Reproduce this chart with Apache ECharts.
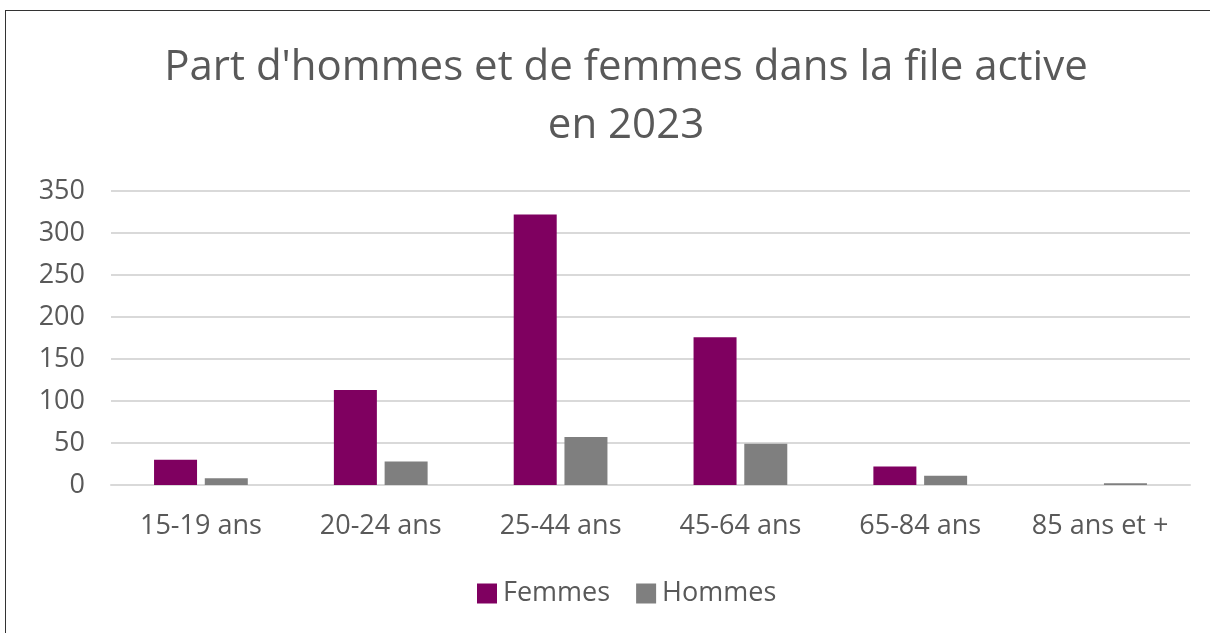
<!DOCTYPE html>
<html>
<head>
<meta charset="utf-8">
<script src="https://cdn.jsdelivr.net/npm/echarts@6/dist/echarts.min.js"></script>
<style>
  html, body { margin: 0; padding: 0; background: #fff; }
  #frame {
    position: absolute; left: 5px; top: 10px; width: 1220px; height: 640px;
    border: 1px solid #333; box-sizing: border-box;
  }
  #chart { position: absolute; left: 0; top: 0; width: 1210px; height: 633px; }
</style>
</head>
<body>
<div id="frame"></div>
<div id="chart"></div>
<script>
const categories = ["15-19 ans", "20-24 ans", "25-44 ans", "45-64 ans", "65-84 ans", "85 ans et +"];
const femmes = [30, 113, 322, 176, 22, 0];
const hommes = [8, 28, 57, 49, 11, 2];

const chart = echarts.init(document.getElementById("chart"));
const font = "Open Sans";

chart.setOption({
  animation: false,
  title: {
    text: "Part d'hommes et de femmes dans la file active\nen 2023",
    left: 621,
    textAlign: "center",
    top: 34,
    textStyle: {
      fontFamily: font,
      fontSize: 42,
      fontWeight: "normal",
      color: "#595959",
      lineHeight: 58
    }
  },
  legend: {
    bottom: 21,
    left: 472,
    itemWidth: 20,
    itemHeight: 20,
    itemGap: 26,
    icon: "rect",
    textStyle: { fontFamily: font, fontSize: 27, color: "#595959", padding: [0, 0, 0, 1] }
  },
  grid: { left: 111, right: 20, top: 191, bottom: 148 },
  xAxis: {
    type: "category",
    data: categories,
    axisTick: { show: false },
    axisLine: { lineStyle: { color: "#d9d9d9", width: 2 } },
    axisLabel: { fontFamily: font, fontSize: 27, color: "#595959", margin: 28 }
  },
  yAxis: {
    type: "value",
    min: 0,
    max: 350,
    interval: 50,
    axisLine: { show: false },
    axisTick: { show: false },
    splitLine: { lineStyle: { color: "#d9d9d9", width: 2 } },
    axisLabel: { fontFamily: font, fontSize: 27, color: "#595959", margin: 26 }
  },
  series: [
    {
      name: "Femmes",
      type: "bar",
      data: femmes,
      barWidth: 43,
      barGap: "18%",
      itemStyle: { color: "#7f0060" }
    },
    {
      name: "Hommes",
      type: "bar",
      data: hommes,
      barWidth: 43,
      itemStyle: { color: "#7f7f7f" }
    }
  ]
});
</script>
</body>
</html>
